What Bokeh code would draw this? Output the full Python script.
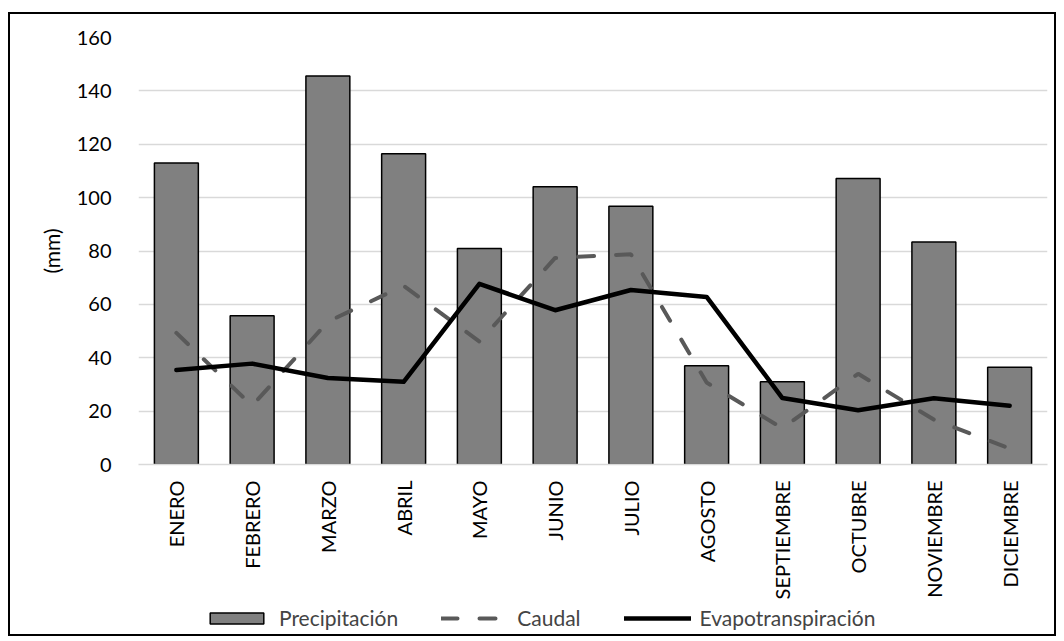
from bokeh.plotting import figure
from bokeh.layouts import column
from bokeh.models import Range1d, SingleIntervalTicker, Legend, LegendItem
from bokeh.embed import file_html
from bokeh.resources import INLINE

# Monthly water balance (mm)
months = ["ENERO", "FEBRERO", "MARZO", "ABRIL", "MAYO", "JUNIO", "JULIO",
          "AGOSTO", "SEPTIEMBRE", "OCTUBRE", "NOVIEMBRE", "DICIEMBRE"]
precipitacion = [113.0, 55.7, 145.6, 116.4, 80.9, 104.1, 96.8, 37.0, 31.0, 107.2, 83.4, 36.4]
caudal = [49.3, 22.0, 53.5, 67.0, 46.1, 77.4, 78.8, 30.7, 13.6, 34.0, 16.8, 6.0]
evapotranspiracion = [35.4, 37.8, 32.4, 31.0, 67.7, 57.8, 65.4, 62.8, 24.9, 20.3, 24.8, 22.0]

FONT = "Lato"
BAR_STYLE = dict(fill_color="#808080", line_color="black", line_width=1.5)
Q_STYLE = dict(line_color="#595959", line_width=4, line_dash="16 22", line_cap="round")
ET_STYLE = dict(line_color="black", line_width=4.5, line_join="round", line_cap="round")

p = figure(
    x_range=months,
    y_range=Range1d(0, 160),
    width=1044,
    height=588,
    output_backend="svg",
    toolbar_location=None,
    min_border_left=128,
    min_border_right=7,
    min_border_top=23,
    min_border_bottom=137,
    outline_line_color=None,
)

p.vbar(x=months, top=precipitacion, width=0.58, **BAR_STYLE)
p.line(x=months, y=caudal, **Q_STYLE)
p.line(x=months, y=evapotranspiracion, **ET_STYLE)

# axes
p.yaxis.ticker = SingleIntervalTicker(interval=20)
yax = p.yaxis[0]
yax.axis_line_color = None
yax.major_tick_line_color = None
yax.minor_tick_line_color = None
yax.major_tick_out = 0
yax.major_label_standoff = 23
yax.major_label_text_font = FONT
yax.major_label_text_font_size = "20px"
yax.major_label_text_color = "black"
yax.axis_label = "(mm)"
yax.axis_label_text_font = FONT
yax.axis_label_text_font_size = "21px"
yax.axis_label_text_font_style = "normal"
yax.axis_label_text_color = "black"
yax.axis_label_standoff = 10

xax = p.xaxis[0]
xax.axis_line_color = "#d9d9d9"
xax.axis_line_width = 1.5
xax.major_tick_line_color = None
xax.minor_tick_line_color = None
xax.major_tick_out = 0
xax.major_label_orientation = 3.14159265 / 2
xax.major_label_standoff = 16
xax.major_label_text_font = FONT
xax.major_label_text_font_size = "20px"
xax.major_label_text_color = "black"

p.xgrid.grid_line_color = None
p.ygrid.grid_line_color = "#d9d9d9"
p.ygrid.grid_line_width = 1.5

# strip under the chart that carries the legend
leg = figure(
    x_range=months,
    y_range=Range1d(0, 160),
    width=1044,
    height=32,
    output_backend="svg",
    toolbar_location=None,
    x_axis_type=None,
    y_axis_type=None,
    min_border=0,
    outline_line_color=None,
)
leg.xgrid.visible = False
leg.ygrid.visible = False
r_bar = leg.vbar(x=months, top=precipitacion, width=0.58, visible=False, **BAR_STYLE)
r_q = leg.line(x=months, y=caudal, visible=False, **Q_STYLE)
r_et = leg.line(x=months, y=evapotranspiracion, visible=False, **ET_STYLE)

lg = Legend(
    items=[
        LegendItem(label="Precipitación", renderers=[r_bar]),
        LegendItem(label="Caudal", renderers=[r_q]),
        LegendItem(label="Evapotranspiración", renderers=[r_et]),
    ],
    orientation="horizontal",
    location=(65, 4),
    padding=0,
    margin=0,
    spacing=43,
    glyph_width=67,
    glyph_height=14,
    label_standoff=9,
    label_text_font=FONT,
    label_text_font_size="21px",
    label_height=20,
    border_line_color=None,
    background_fill_alpha=0,
    inactive_fill_alpha=0,
)
leg.add_layout(lg, "center")

page = column(p, leg, spacing=0)
page.styles = {"margin": "12px 0 0 8px", "border": "2px solid black"}

open("out.html", "w").write(file_html(page, INLINE))
